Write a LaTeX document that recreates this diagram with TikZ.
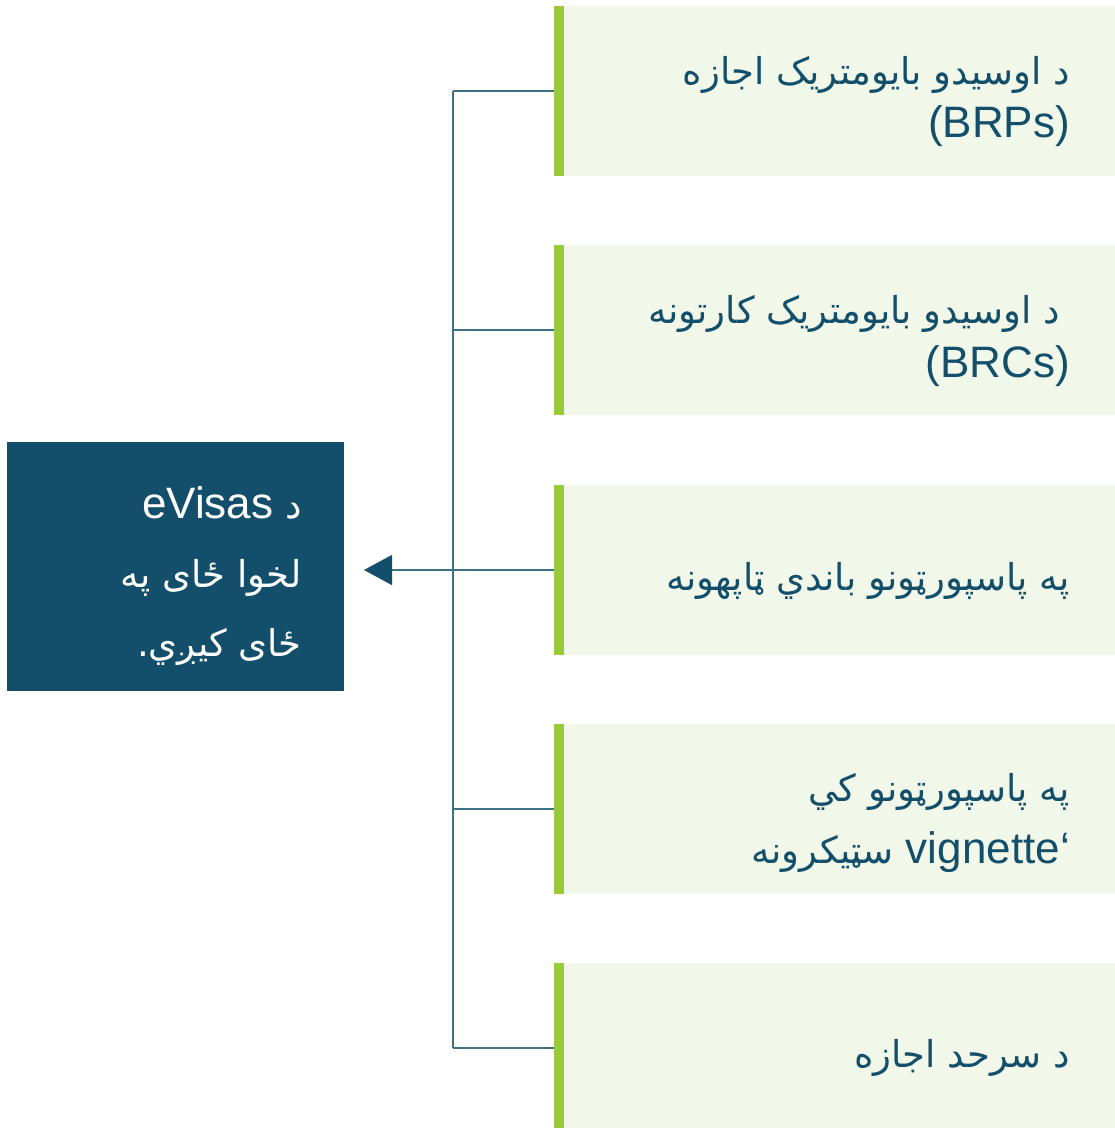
\documentclass[tikz,border=0pt]{standalone}
\usepackage{fontspec}
\usetikzlibrary{arrows.meta}
\setmainfont{Liberation Sans}
\newfontfamily\arabicfont[Script=Arabic]{DejaVu Sans}
\TeXXeTstate=1
\definecolor{darkteal}{HTML}{134F6A}
\definecolor{lightgreen}{HTML}{F1F8E9}
\definecolor{bargreen}{HTML}{9ACA3C}
\definecolor{linecol}{HTML}{3E7088}
\newcommand{\ar}{\fontsize{37}{44}\selectfont\arabicfont}
\newcommand{\la}{\fontsize{44}{52}\selectfont}
\newcommand{\gap}{\hspace*{12pt}}
\begin{document}
\begin{tikzpicture}[x=1pt,y=-1pt,
  rbox/.style={fill=lightgreen, minimum width=561pt, minimum height=170pt, inner sep=0pt, draw=none},
  mbox/.style={fill=darkteal, minimum width=337pt, minimum height=249pt, inner sep=0pt, draw=none},
  rtxt/.style={text=darkteal, anchor=base east, inner sep=0pt},
  mtxt/.style={text=white, anchor=base east, inner sep=0pt},
  link/.style={draw=linecol, line width=1.3pt},
  arrowlink/.style={draw=linecol, line width=1.3pt, -{Triangle[length=28pt,width=30pt,color=darkteal]}}
]
\useasboundingbox (0,0) rectangle (1115,1128);
% main box
\node[mbox] (m) at (175.5,566.5) {};
\node[mtxt] (m1) at (302,518) {\beginR{\ar د}\gap\beginL{\la eVisas}\endL\endR};
\node[mtxt] (m2) at (302,587) {\ar\beginR لخوا ځای په\endR};
\node[mtxt] (m3) at (302,656) {\ar\beginR ځای کیږي.\endR};
% right boxes
\foreach \n/\y in {b1/91,b2/330,b3/570,b4/809,b5/1048}{
  \node[rbox] (\n) at (834.5,\y) {};
  \fill[bargreen] (\n.north west) rectangle ([xshift=10pt]\n.south west);
}
\node[rtxt] (t1a) at (1070,84) {\ar\beginR د اوسیدو بایومتریک اجازه\endR};
\node[rtxt] (t1b) at (1070,137) {\la (BRPs)};
\node[rtxt] (t2a) at (1060,323) {\ar\beginR د اوسیدو بایومتریک کارتونه\endR};
\node[rtxt] (t2b) at (1070,377) {\la (BRCs)};
\node[rtxt] (t3a) at (1070,590) {\ar\beginR په پاسپورټونو باندي ټاپهونه\endR};
\node[rtxt] (t4a) at (1070,801) {\ar\beginR په پاسپورټونو کي\endR};
\node[rtxt] (t4b) at (1070,863) {\beginR{\la ‘}\beginL{\la vignette}\endL\gap{\ar سټیکرونه}\endR};
\node[rtxt] (t5a) at (1070,1067) {\ar\beginR د سرحد اجازه\endR};
% connectors
\coordinate (j1) at (453,91);
\coordinate (j5) at (453,1048);
\coordinate (tip) at (364,570);
\draw[link] (j1) -- (j5);
\foreach \n in {b1,b2,b4,b5}{
  \draw[link] (\n.west) -- (\n.west -| j1);
}
\draw[arrowlink] (b3.west) -- (tip);
\end{tikzpicture}
\end{document}
